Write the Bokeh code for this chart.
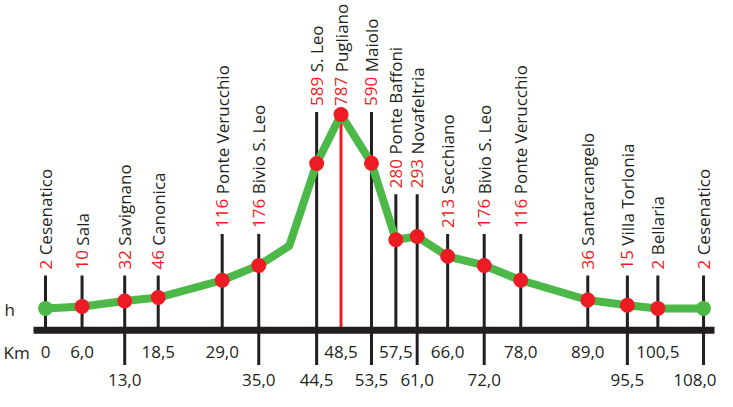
import math
from bokeh.plotting import figure
from bokeh.models import Range1d
from bokeh.core.properties import value
from bokeh.embed import file_html
from bokeh.resources import INLINE

# ---- data ----
station_km = [0, 6.0, 13.0, 18.5, 29.0, 35.0, 44.5, 48.5, 53.5, 57.5, 61.0,
              66.0, 72.0, 78.0, 89.0, 95.5, 100.5, 108.0]
station_h = [2, 10, 32, 46, 116, 176, 589, 787, 590, 280, 293,
             213, 176, 116, 36, 15, 2, 2]
station_name = ["Cesenatico", "Sala", "Savignano", "Canonica", "Ponte Verucchio",
                "Bivio S. Leo", "S. Leo", "Pugliano", "Maiolo", "Ponte Baffoni",
                "Novafeltria", "Secchiano", "Bivio S. Leo", "Ponte Verucchio",
                "Santarcangelo", "Villa Torlonia", "Bellaria", "Cesenatico"]
bend_km = [40.0]          # unlabelled bend of the profile
bend_h = [255]

# ---- layout / style (not data) ----
label_tier = [0, 0, 0, 0, 1, 1, 3, 3, 3, 2, 2, 1, 1, 1, 0, 0, 0, 0]
km_row = [0, 0, 1, 0, 0, 1, 1, 0, 1, 0, 1, 0, 1, 0, 0, 1, 0, 1]
TIER_TOP_PX = [275.0, 233.4, 193.7, 111.4]
LABEL_GAP_PX = 6.0
BAR_PX = 329.7
LOWER_END_PX = 364.5
KM_MID_PX = [351.5, 379.0]
FONT = "Open Sans"
FS = 17
RED = "#ed1c24"
GREEN = "#4cb848"
BLACK = "#231f20"

W, H = 717, 391
PX_PER_KM = 6.093
ORIGIN_PX = 45            # screen column of km 0
X0 = -ORIGIN_PX / PX_PER_KM
X1 = X0 + W / PX_PER_KM
M_PER_PX = 4.05
BASE_PX = 307.9           # screen row of 2 m
Y_TOP = 2 + BASE_PX * M_PER_PX
Y_BOT = Y_TOP - H * M_PER_PX


def xd(px):
    return X0 + (X1 - X0) * px / W


def yd(px):
    return Y_TOP - (Y_TOP - Y_BOT) * px / H


p = figure(width=W, height=H, output_backend="svg", toolbar_location=None,
           x_range=Range1d(X0, X1), y_range=Range1d(Y_BOT, Y_TOP),
           x_axis_type=None, y_axis_type=None, min_border=0)
p.grid.visible = False
p.outline_line_color = None
p.background_fill_color = "white"

summit = station_h.index(max(station_h))

# leader lines
lx, ly0, ly1 = [], [], []
for i, k in enumerate(station_km):
    if i == summit:
        continue
    lx.append(k)
    ly0.append(yd(TIER_TOP_PX[label_tier[i]]))
    ly1.append(yd(LOWER_END_PX if km_row[i] == 1 else BAR_PX))
p.segment(x0=lx, y0=ly0, x1=lx, y1=ly1, line_color=BLACK, line_width=3)
p.segment(x0=[station_km[summit]], y0=[station_h[summit]],
          x1=[station_km[summit]], y1=[yd(BAR_PX)], line_color=RED, line_width=3)

# base bar
p.segment(x0=[xd(33)], y0=[yd(BAR_PX)], x1=[xd(714)], y1=[yd(BAR_PX)],
          line_color=BLACK, line_width=7)

# profile
prof = sorted(zip(station_km + bend_km, station_h + bend_h))
p.line([a for a, _ in prof], [b for _, b in prof], line_color=GREEN,
       line_width=8, line_join="round", line_cap="round")
mcol = [GREEN if i in (0, len(station_km) - 1) else RED for i in range(len(station_km))]
p.scatter(station_km, station_h, size=15, fill_color=mcol, line_color=None)

# station labels
dig_w = 0.572 * FS
sp_w = 0.26 * FS
num_y, name_y = [], []
for i in range(len(station_km)):
    start = TIER_TOP_PX[label_tier[i]] - LABEL_GAP_PX
    num_y.append(yd(start))
    name_y.append(yd(start - len(str(station_h[i])) * dig_w - sp_w))
p.text(station_km, num_y, text=[str(v) for v in station_h], angle=math.pi / 2,
       text_align="left", text_baseline="middle", text_color=RED,
       text_font=value(FONT), text_font_size=f"{FS}px")
p.text(station_km, name_y, text=station_name, angle=math.pi / 2,
       text_align="left", text_baseline="middle", text_color=BLACK,
       text_font=value(FONT), text_font_size=f"{FS}px")

# km labels (the last one is kept inside the right edge)
km_txt = ["0" if k == 0 else f"{k:.1f}".replace(".", ",") for k in station_km]
n = len(station_km)
p.text(station_km[:-1], [yd(KM_MID_PX[r]) for r in km_row[:-1]], text=km_txt[:-1],
       text_align="center", text_baseline="middle", text_color=BLACK,
       text_font=value(FONT), text_font_size=f"{FS}px")
p.text([xd(W - 1)], [yd(KM_MID_PX[km_row[-1]])], text=[km_txt[-1]],
       text_align="right", text_baseline="middle", text_color=BLACK,
       text_font=value(FONT), text_font_size=f"{FS}px")

# side labels
p.text([xd(4), xd(3)], [yd(309.4), yd(351.5)], text=["h", "Km"],
       text_align="left", text_baseline="middle", text_color=BLACK,
       text_font=value(FONT), text_font_size=f"{FS}px")

open("out.html", "w").write(file_html(p, INLINE))
